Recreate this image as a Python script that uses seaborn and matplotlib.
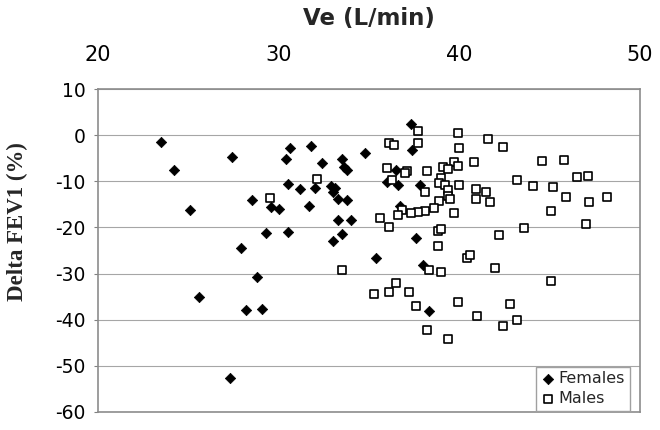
import matplotlib
matplotlib.use("Agg")
import matplotlib.pyplot as plt
import seaborn as sns

# Ve (L/min) and Delta FEV1 (%)
female_ve = [23.5, 24.2, 27.4, 25.1, 28.5, 29.6, 30.0, 30.6, 30.4, 30.5,
             29.3, 30.5, 27.9, 28.8, 25.6, 28.2, 29.1, 27.3, 37.3, 37.4,
             31.8, 32.4, 33.5, 33.6, 33.8, 34.8, 36.5, 31.2, 32.0, 32.9,
             33.1, 33.0, 36.0, 36.6, 37.8, 33.3, 33.8, 31.7, 36.7, 33.3,
             34.0, 33.5, 33.0, 37.6, 35.4, 38.0, 38.3]
female_dfev = [-1.4, -7.6, -4.7, -16.2, -14.1, -15.6, -16.0, -2.7, -5.2, -10.5,
               -21.3, -20.9, -24.4, -30.8, -35.0, -38.0, -37.6, -52.6, 2.4, -3.3,
               -2.4, -6.0, -5.2, -7.0, -7.6, -3.9, -7.6, -11.7, -11.5, -11.0,
               -11.4, -12.3, -10.1, -10.7, -10.7, -13.9, -14.1, -15.3, -15.3, -18.4,
               -18.4, -21.4, -22.9, -22.2, -26.6, -28.2, -38.1]

male_ve = [29.5, 32.1, 37.7, 39.9, 36.1, 36.4, 37.7, 40.0, 40.8, 39.7,
           39.9, 39.1, 39.4, 38.2, 36.0, 37.1, 37.0, 39.0, 36.3, 38.9,
           39.2, 40.0, 40.9, 39.4, 38.1, 39.4, 39.5, 40.9, 38.9, 38.6,
           38.1, 37.7, 37.3, 36.8, 36.6, 39.7, 35.6, 36.1, 38.8, 39.0,
           38.8, 40.4, 40.6, 33.5, 38.3, 39.0, 35.3, 36.1, 36.5, 37.2,
           37.6, 39.9, 41.0, 38.2, 39.4, 41.6, 42.4, 44.6, 45.8, 46.5,
           47.1, 43.2, 41.5, 41.7, 44.1, 45.2, 45.9, 47.2, 48.2, 45.1,
           47.0, 43.6, 42.2, 42.0, 45.1, 42.8, 43.2, 42.4]
male_dfev = [-13.6, -9.5, 1.0, 0.4, -1.8, -2.1, -1.7, -2.8, -5.9, -5.9,
             -6.6, -6.8, -7.4, -7.8, -7.2, -7.8, -8.1, -9.2, -9.7, -10.4,
             -10.7, -10.8, -11.6, -11.9, -12.3, -13.3, -13.9, -13.8, -14.3, -15.9,
             -16.4, -16.7, -16.9, -16.2, -17.3, -16.8, -17.9, -19.9, -20.7, -20.3,
             -24.0, -26.6, -26.0, -29.2, -29.2, -29.6, -34.4, -33.9, -32.1, -33.9,
             -37.0, -36.2, -39.1, -42.3, -44.1, -0.9, -2.5, -5.5, -5.4, -9.0,
             -8.9, -9.7, -12.3, -14.4, -11.1, -11.3, -13.4, -14.5, -13.4, -16.5,
             -19.3, -20.1, -21.7, -28.8, -31.7, -36.7, -40.1, -41.3]

x_ticks = [20, 30, 40, 50]
y_ticks = [10, 0, -10, -20, -30, -40, -50, -60]

sns.set_theme(style="white")
plt.rcParams["font.family"] = ["DejaVu Sans"]
plt.rcParams["axes.unicode_minus"] = False

fig = plt.figure(figsize=(6.6, 4.3), dpi=100)
ax = fig.add_axes([0.1485, 0.042, 0.8212, 0.751])

sns.scatterplot(x=female_ve, y=female_dfev, marker="D", s=28, color="black",
                edgecolor="black", linewidth=0.5, label="Females", ax=ax, zorder=3)
sns.scatterplot(x=male_ve, y=male_dfev, marker="s", s=27, facecolor="white",
                edgecolor="black", linewidth=1.2, label="Males", ax=ax, zorder=3)

ax.set_xlim(20, 50)
ax.set_ylim(-60, 10)
ax.set_xticks(x_ticks)
ax.set_yticks(y_ticks)
ax.xaxis.tick_top()
ax.xaxis.set_label_position("top")
ax.tick_params(axis="x", length=0, pad=17, labelsize=15, colors="black")
ax.tick_params(axis="y", left=True, length=3, width=0.8, color="#808080",
               pad=6, labelsize=13.5, labelcolor="black")
ax.yaxis.grid(True, color="#a6a6a6", linewidth=0.8)
ax.set_axisbelow(True)
for sp in ax.spines.values():
    sp.set_color("#8c8c8c")
    sp.set_linewidth(1.2)

ax.set_xlabel("Ve (L/min)", fontsize=16.5, fontweight="bold", labelpad=15)
ax.set_ylabel("Delta FEV1 (%)", fontsize=16.5, fontweight="bold",
              family=["Liberation Serif"])
ax.yaxis.set_label_coords(-0.129, 0.59)

leg = ax.legend(loc="lower right", bbox_to_anchor=(0.9815, 0.003),
                borderaxespad=0, frameon=True, fancybox=False, framealpha=1,
                edgecolor="#a0a0a0", fontsize=11.5, handletextpad=0.2,
                handlelength=0.9, labelspacing=0.3, borderpad=0.3)
leg.get_frame().set_linewidth(1.0)

fig.savefig("out.png", dpi=100)
